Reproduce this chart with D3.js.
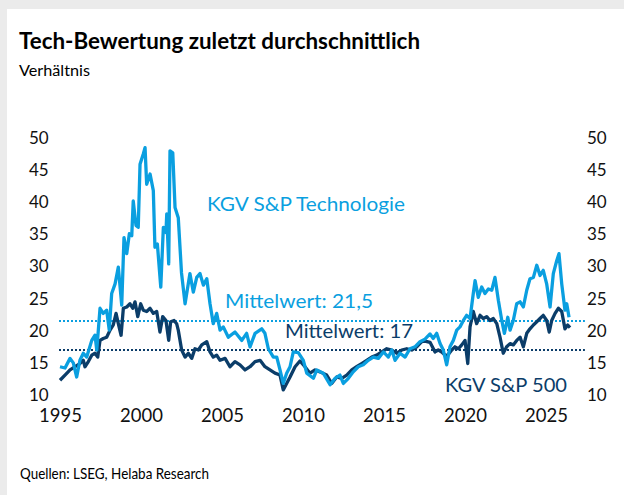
<!DOCTYPE html>
<html><head><meta charset="utf-8">
<script src="https://cdn.jsdelivr.net/npm/d3@7"></script>
<style>body{margin:0;background:#fff}svg{display:block}</style>
</head><body>
<script>
// ---- data ----
const techDates = [1995.00,1995.31,1995.62,1995.82,1996.03,1996.23,1996.44,1996.65,1996.96,1997.16,1997.27,1997.47,1997.67,1997.88,1998.04,1998.19,1998.40,1998.60,1998.81,1998.95,1999.12,1999.28,1999.43,1999.52,1999.69,1999.83,1999.94,2000.14,2000.25,2000.35,2000.56,2000.76,2000.86,2001.01,2001.22,2001.38,2001.54,2001.59,2001.71,2001.79,2001.96,2002.10,2002.30,2002.50,2002.72,2003.02,2003.23,2003.44,2003.64,2003.85,2004.06,2004.26,2004.46,2004.67,2004.88,2005.08,2005.39,2005.80,2006.22,2006.52,2006.73,2007.04,2007.45,2007.65,2007.86,2008.17,2008.38,2008.58,2008.78,2008.99,2009.20,2009.40,2009.71,2010.02,2010.23,2010.64,2010.85,2011.25,2011.67,2011.98,2012.28,2012.49,2012.80,2013.10,2013.41,2013.72,2014.03,2014.34,2014.65,2014.96,2015.27,2015.48,2015.68,2015.99,2016.30,2016.60,2016.91,2017.22,2017.53,2017.84,2018.04,2018.25,2018.46,2018.66,2018.87,2019.07,2019.28,2019.49,2019.69,2019.90,2020.10,2020.31,2020.51,2020.62,2020.82,2021.03,2021.23,2021.44,2021.65,2021.85,2022.06,2022.27,2022.43,2022.64,2022.78,2022.98,2023.19,2023.40,2023.60,2023.81,2024.01,2024.22,2024.43,2024.63,2024.83,2025.04,2025.25,2025.45,2025.66,2025.80,2025.97,2026.17,2026.28,2026.42];
const techValues = [14.4,14.2,15.7,15.0,12.8,15.4,16.5,15.9,18.5,19.3,17.0,23.5,22.7,23.2,20.1,25.8,27.3,29.9,24.0,34.5,32.0,35.1,34.8,40.2,36.4,36.1,45.9,47.5,48.5,42.8,44.4,41.8,33.0,33.5,26.8,36.1,35.3,38.2,30.4,48.0,47.7,39.2,37.6,29.0,24.2,28.9,26.0,28.3,28.9,27.1,28.1,24.2,21.1,22.7,20.1,20.6,19.0,19.8,18.5,19.6,17.5,19.6,20.3,19.6,17.2,15.9,15.9,13.9,11.8,13.4,14.4,16.7,16.6,15.4,13.4,12.6,13.9,13.4,11.6,12.6,13.1,11.8,12.6,13.6,14.4,14.7,15.4,15.9,15.7,16.7,15.9,17.0,15.4,16.5,15.9,17.2,17.5,18.3,18.7,19.5,18.8,19.6,18.0,17.0,14.7,17.5,18.5,20.1,20.6,21.6,22.4,21.9,25.8,27.8,25.2,26.8,25.8,26.5,26.3,28.3,24.7,21.6,19.6,22.1,20.1,21.6,24.2,24.5,23.7,26.3,28.1,28.3,30.2,28.6,29.4,27.3,23.7,28.9,30.9,32.0,27.3,23.2,24.2,22.1];
const spDates = [1995.00,1995.31,1995.62,1995.93,1996.23,1996.44,1996.54,1996.75,1996.96,1997.16,1997.33,1997.47,1997.67,1997.88,1998.09,1998.29,1998.46,1998.60,1998.77,1998.91,1999.12,1999.32,1999.49,1999.63,1999.80,1999.98,2000.14,2000.35,2000.56,2000.76,2000.97,2001.17,2001.34,2001.54,2001.71,2001.83,2002.04,2002.20,2002.30,2002.51,2002.72,2002.92,2003.13,2003.33,2003.54,2003.75,2004.06,2004.26,2004.46,2004.67,2004.88,2005.19,2005.49,2005.80,2006.11,2006.42,2006.73,2007.04,2007.35,2007.65,2007.96,2008.27,2008.58,2008.78,2008.99,2009.20,2009.51,2009.81,2010.12,2010.43,2010.74,2011.05,2011.46,2011.77,2012.08,2012.39,2012.70,2013.01,2013.31,2013.62,2013.93,2014.24,2014.55,2014.86,2015.17,2015.48,2015.78,2016.09,2016.40,2016.71,2017.02,2017.33,2017.53,2017.84,2018.15,2018.35,2018.56,2018.77,2018.93,2019.18,2019.38,2019.59,2019.80,2020.00,2020.17,2020.31,2020.51,2020.72,2020.93,2021.13,2021.34,2021.54,2021.75,2021.96,2022.16,2022.36,2022.57,2022.78,2022.98,2023.19,2023.40,2023.60,2023.81,2024.01,2024.22,2024.43,2024.63,2024.83,2025.04,2025.20,2025.35,2025.56,2025.76,2025.97,2026.17,2026.34,2026.48];
const spValues = [12.3,13.1,13.9,14.4,14.9,15.4,14.4,15.2,16.2,16.5,15.9,18.5,18.8,19.0,20.1,20.9,22.7,21.1,19.3,23.5,23.7,24.2,23.5,24.5,22.2,24.2,23.2,23.0,23.5,22.7,23.0,19.8,22.2,21.6,18.5,21.4,21.6,21.1,20.1,17.0,15.9,16.5,15.7,17.2,17.0,17.8,18.3,16.7,15.9,16.2,15.4,15.7,14.4,15.2,14.7,13.9,14.4,15.2,15.4,14.4,13.9,13.4,13.1,10.8,11.8,12.8,14.4,15.3,14.4,13.4,13.9,13.6,13.1,11.8,12.8,12.6,13.1,13.9,14.4,14.9,15.4,15.9,16.2,16.7,17.2,17.0,16.5,17.0,17.2,17.0,17.5,18.3,18.4,18.2,16.7,17.0,16.7,16.2,16.2,17.0,17.5,17.2,17.8,18.5,14.9,20.6,23.0,21.1,22.4,21.9,22.2,21.6,21.9,21.1,19.0,16.5,17.5,18.0,17.8,18.5,19.0,17.5,19.6,20.3,20.9,21.4,21.9,22.4,21.6,19.8,21.6,22.7,23.5,23.0,20.3,20.9,20.5];
const meanTech = 21.5;
const meanSp = 17;
const yTicks = [10,15,20,25,30,35,40,45,50];
const xTicks = [1995,2000,2005,2010,2015,2020,2025];

const W = 624, H = 495;
const cLight = "#0a9fe0", cDark = "#0b3d69", cText = "#111";
const FONT = "Lato, 'Noto Sans', sans-serif";

const svg = d3.select("body").append("svg").attr("width", W).attr("height", H)
  .style("font-family", FONT);

svg.append("rect").attr("width", W).attr("height", H).attr("fill", "#ebebeb");
svg.append("rect").attr("x", 7).attr("y", 9).attr("width", W - 7).attr("height", H - 9).attr("fill", "#fff");

const x = d3.scaleLinear().domain([1995, 2027.4]).range([60, 584.9]);
const y = d3.scaleLinear().domain([10, 50]).range([395, 138]);

// axes
const yl = svg.append("g").attr("transform", "translate(29,0)")
  .call(d3.axisRight(y).tickValues(yTicks).tickSize(0).tickPadding(0).tickFormat(d3.format("d")));
const yr = svg.append("g").attr("transform", "translate(587,0)")
  .call(d3.axisRight(y).tickValues(yTicks).tickSize(0).tickPadding(0).tickFormat(d3.format("d")));
const xa = svg.append("g").attr("transform", "translate(0,405)")
  .call(d3.axisBottom(x).tickValues(xTicks).tickSize(0).tickPadding(4).tickFormat(d3.format("d")));
[yl, yr].forEach(g => {
  g.select(".domain").remove();
  g.selectAll("text").attr("fill", cText).style("font-size", "17px").style("font-family", FONT);
});
xa.select(".domain").remove();
xa.selectAll("text").attr("fill", cText).style("font-size", "18.5px").style("font-family", FONT);

// mean lines
svg.append("line").attr("x1", x(1995) - 1).attr("x2", x(2027.4)).attr("y1", y(meanTech)).attr("y2", y(meanTech))
  .attr("stroke", cLight).attr("stroke-width", 2).attr("stroke-dasharray", "2,2");
svg.append("line").attr("x1", x(1995) - 1).attr("x2", x(2027.4)).attr("y1", y(meanSp)).attr("y2", y(meanSp))
  .attr("stroke", cDark).attr("stroke-width", 2).attr("stroke-dasharray", "2,2");

const line = d3.line().x(d => x(d[0])).y(d => y(d[1])).curve(d3.curveLinear);
const spData = d3.zip(spDates, spValues);
const techData = d3.zip(techDates, techValues);
svg.append("path").datum(spData).attr("d", line).attr("fill", "none")
  .attr("stroke", cDark).attr("stroke-width", 3.3).attr("stroke-linejoin", "round");
svg.append("path").datum(techData).attr("d", line).attr("fill", "none")
  .attr("stroke", cLight).attr("stroke-width", 3.3).attr("stroke-linejoin", "round");

// labels
function txt(s, xx, yy, size, color, weight, len) {
  const t = svg.append("text").attr("x", xx).attr("y", yy).text(s)
    .attr("fill", color).style("font-size", size + "px").style("font-weight", weight || "normal");
  if (len) t.attr("textLength", len).attr("lengthAdjust", "spacingAndGlyphs");
  return t;
}
txt("Tech-Bewertung zuletzt durchschnittlich", 19, 49, 22.5, "#000", "bold", 401);
txt("Verhältnis", 19, 76, 16, "#000", null, 71);
txt("KGV S&P Technologie", 207, 211, 19.5, cLight, null, 198);
txt("Mittelwert: 21,5", 225, 308, 19.5, cLight, null, 148);
txt("Mittelwert: 17", 285, 338, 19.5, cDark, null, 128);
txt("KGV S&P 500", 445, 392, 19.5, cDark, null, 122);
txt("Quellen: LSEG, Helaba Research", 20, 479, 15, "#000", null, 189);
</script>
</body></html>
